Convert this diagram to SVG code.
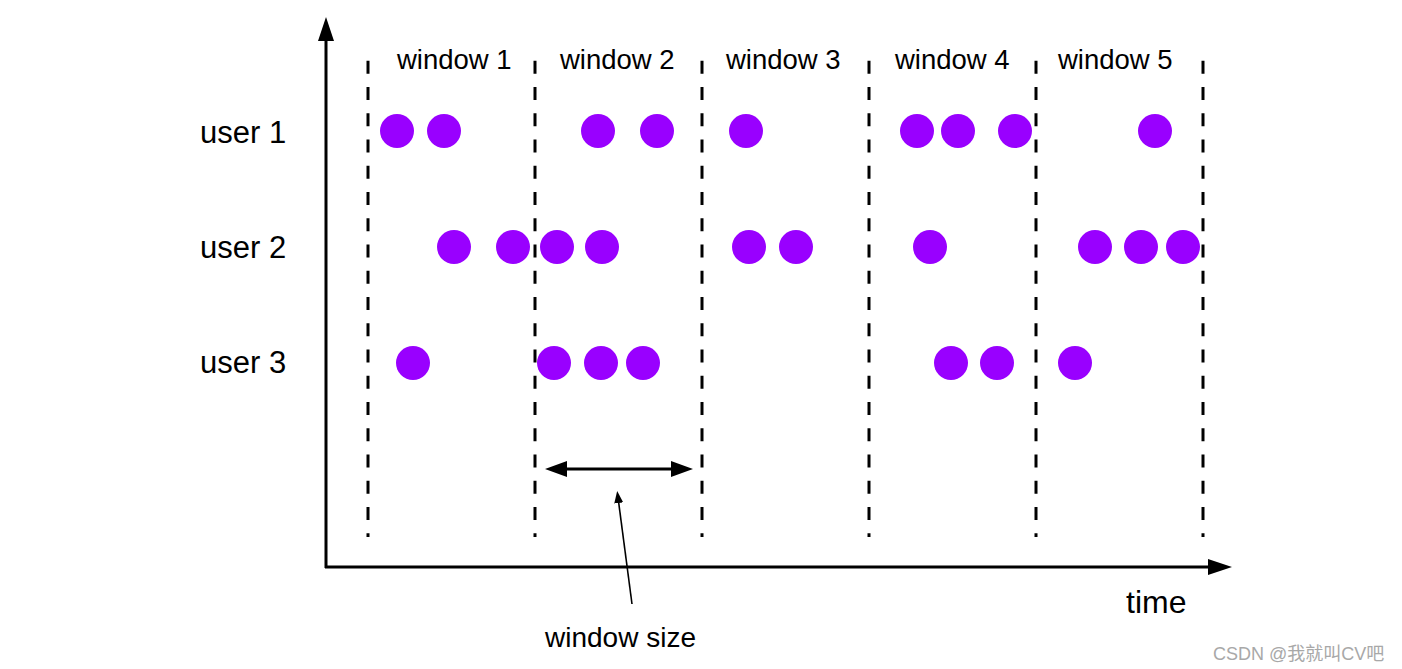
<svg xmlns="http://www.w3.org/2000/svg" width="1402" height="669" viewBox="0 0 1402 669">
<style>
text{font-family:"Liberation Sans",Arial,sans-serif;fill:#000}
.win{font-size:27.5px}
.usr{font-size:31px}
.dash{stroke:#000;stroke-width:3;stroke-dasharray:13 13.25;fill:none}
.dot{fill:#9900ff}
.axis{stroke:#000;stroke-width:3;fill:none}
</style>
<defs>
<marker id="bigHead" markerUnits="userSpaceOnUse" markerWidth="24" markerHeight="16" viewBox="0 0 24 16" refX="1" refY="8" orient="auto-start-reverse">
<path d="M0,0 L24,8 L0,16 z" fill="#000"/>
</marker>
<marker id="midHead" markerUnits="userSpaceOnUse" markerWidth="22" markerHeight="16" viewBox="0 0 22 16" refX="1" refY="8" orient="auto-start-reverse">
<path d="M0,0 L22,8 L0,16 z" fill="#000"/>
</marker>
<marker id="smallHead" markerUnits="userSpaceOnUse" markerWidth="12" markerHeight="9" viewBox="0 0 12 9" refX="1" refY="4.5" orient="auto">
<path d="M0,0 L12,4.5 L0,9 z" fill="#000"/>
</marker>
</defs>

<g id="window-lines">
<line class="dash" x1="368" y1="60.75" x2="368" y2="537"/>
<line class="dash" x1="535" y1="60.75" x2="535" y2="537"/>
<line class="dash" x1="702" y1="60.75" x2="702" y2="537"/>
<line class="dash" x1="869" y1="60.75" x2="869" y2="537"/>
<line class="dash" x1="1036" y1="60.75" x2="1036" y2="537"/>
<line class="dash" x1="1203" y1="60.75" x2="1203" y2="537"/>
</g>

<g id="connectors">
<line id="y-axis" class="axis" x1="326" y1="568" x2="326" y2="40" marker-end="url(#bigHead)"/>
<line id="x-axis" class="axis" x1="325" y1="567" x2="1209" y2="567" marker-end="url(#bigHead)"/>
<line id="window-size-arrow" class="axis" x1="566" y1="469" x2="672" y2="469" marker-start="url(#midHead)" marker-end="url(#midHead)"/>
<line id="pointer" stroke="#000" stroke-width="1.6" x1="632" y1="604" x2="618.6" y2="502" marker-end="url(#smallHead)"/>
</g>

<g id="window-labels">
<text class="win" x="397" y="69">window 1</text>
<text class="win" x="560" y="69">window 2</text>
<text class="win" x="726" y="69">window 3</text>
<text class="win" x="895" y="69">window 4</text>
<text class="win" x="1058" y="69">window 5</text>
</g>

<g id="user1">
<text class="usr" x="200" y="143">user 1</text>
<circle class="dot" cx="397" cy="131" r="17"/>
<circle class="dot" cx="444" cy="131" r="17"/>
<circle class="dot" cx="598" cy="131" r="17"/>
<circle class="dot" cx="657" cy="131" r="17"/>
<circle class="dot" cx="746" cy="131" r="17"/>
<circle class="dot" cx="917" cy="131" r="17"/>
<circle class="dot" cx="958" cy="131" r="17"/>
<circle class="dot" cx="1015" cy="131" r="17"/>
<circle class="dot" cx="1155" cy="131" r="17"/>
</g>

<g id="user2">
<text class="usr" x="200" y="258">user 2</text>
<circle class="dot" cx="454" cy="247" r="17"/>
<circle class="dot" cx="513" cy="247" r="17"/>
<circle class="dot" cx="557" cy="247" r="17"/>
<circle class="dot" cx="602" cy="247" r="17"/>
<circle class="dot" cx="749" cy="247" r="17"/>
<circle class="dot" cx="796" cy="247" r="17"/>
<circle class="dot" cx="930" cy="247" r="17"/>
<circle class="dot" cx="1095" cy="247" r="17"/>
<circle class="dot" cx="1141" cy="247" r="17"/>
<circle class="dot" cx="1183" cy="247" r="17"/>
</g>

<g id="user3">
<text class="usr" x="200" y="373">user 3</text>
<circle class="dot" cx="413" cy="363" r="17"/>
<circle class="dot" cx="554" cy="363" r="17"/>
<circle class="dot" cx="601" cy="363" r="17"/>
<circle class="dot" cx="643" cy="363" r="17"/>
<circle class="dot" cx="951" cy="363" r="17"/>
<circle class="dot" cx="997" cy="363" r="17"/>
<circle class="dot" cx="1075" cy="363" r="17"/>
</g>

<g id="labels">
<text x="1126" y="613" font-size="32">time</text>
<text x="545" y="647" font-size="28">window size</text>
<text x="1213" y="660" font-size="18" style="fill:#a8a8a8;font-family:'Liberation Sans','Noto Sans CJK SC',sans-serif">CSDN @我就叫CV吧</text>
</g>
</svg>
